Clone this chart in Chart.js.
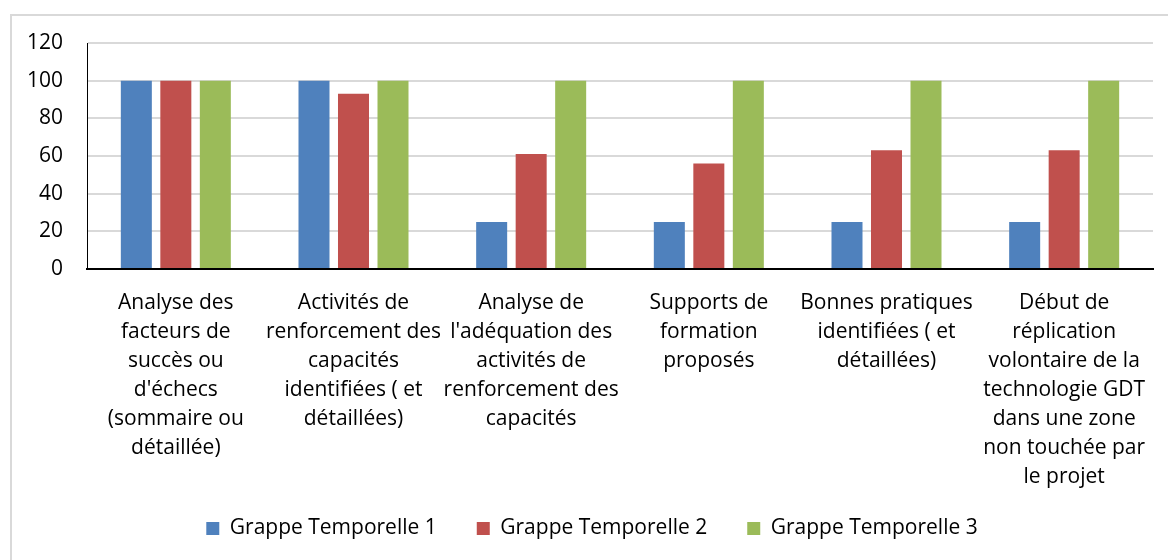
<!DOCTYPE html>
<html>
<head>
<meta charset="utf-8">
<script src="https://cdn.jsdelivr.net/npm/chart.js@4/dist/chart.umd.min.js"></script>
<style>
  html, body { margin: 0; padding: 0; background: #fff; }
  #wrap { position: relative; width: 1168px; height: 560px; overflow: hidden; }
  #frame { position: absolute; left: 10px; top: 14px; width: 1200px; height: 600px; border: 2px solid #d9d9d9; box-sizing: border-box; }
  canvas { position: absolute; left: 0; top: 0; }
</style>
</head>
<body>
<div id="wrap">
  <div id="frame"></div>
  <canvas id="chart" width="1168" height="560"></canvas>
</div>
<script>
  const categories = [
    ["Analyse des", "facteurs de", "succès ou", "d'échecs", "(sommaire ou", "détaillée)"],
    ["Activités de", "renforcement des", "capacités", "identifiées ( et", "détaillées)"],
    ["Analyse de", "l'adéquation des", "activités de", "renforcement des", "capacités"],
    ["Supports de", "formation", "proposés"],
    ["Bonnes pratiques", "identifiées ( et", "détaillées)"],
    ["Début de", "réplication", "volontaire de la", "technologie GDT", "dans une zone", "non touchée par", "le projet"],
  ];
  const seriesNames = ["Grappe Temporelle 1", "Grappe Temporelle 2", "Grappe Temporelle 3"];
  const grappe1 = [100, 100, 25, 25, 25, 25];
  const grappe2 = [100, 93, 61, 56, 63, 63];
  const grappe3 = [100, 100, 100, 100, 100, 100];
  const colors = ["#4f81bd", "#c0504d", "#9bbb59"];

  const FONT = "'Open Sans', Lato, sans-serif";
  Chart.defaults.font.family = FONT;
  Chart.defaults.color = "#000";

  // legend box is kept small for layout, then stretched over the band under the labels
  const legendTop = 478;
  const legendShift = {
    id: "legendShift",
    afterLayout(chart) {
      const lg = chart.legend;
      lg.top = legendTop;
      lg.bottom = chart.height;
      lg.height = lg.bottom - lg.top;
      lg.left = 31;
      lg.width = lg.right - lg.left;
    },
  };

  new Chart(document.getElementById("chart"), {
    type: "bar",
    data: {
      labels: categories,
      datasets: [grappe1, grappe2, grappe3].map((values, i) => ({
        label: seriesNames[i],
        data: values,
        backgroundColor: colors[i],
        categoryPercentage: 0.667,
        barPercentage: 0.785,
      })),
    },
    plugins: [legendShift],
    options: {
      responsive: false,
      animation: false,
      layout: { padding: { top: 43, right: 15, left: 0, bottom: 30 } },
      plugins: {
        tooltip: { enabled: false },
        legend: {
          position: "bottom",
          maxHeight: 36,
          labels: {
            boxWidth: 13,
            boxHeight: 13,
            padding: 40,
            font: { size: 21 },
          },
        },
      },
      scales: {
        x: {
          grid: { display: false },
          border: { color: "#000", width: 2 },
          ticks: { font: { size: 21, lineHeight: 1.38 }, padding: 12, maxRotation: 0, autoSkip: false },
          afterFit: (scale) => { scale.height = 225; },
        },
        y: {
          min: 0,
          max: 120,
          grid: { color: "#d9d9d9", lineWidth: 2, drawTicks: false },
          border: { color: "#000", width: 1 },
          ticks: { stepSize: 20, font: { size: 21 }, padding: 24 },
          afterFit: (scale) => { scale.width = 87; },
        },
      },
    },
  });
</script>
</body>
</html>
